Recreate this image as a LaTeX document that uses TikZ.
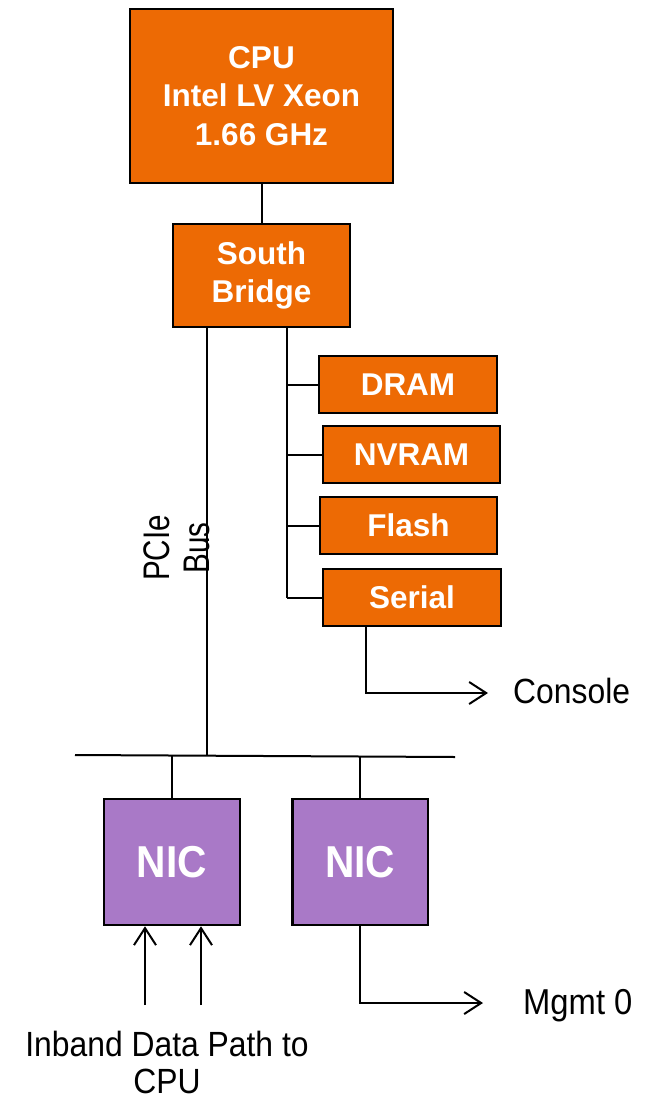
\documentclass[tikz,border=0pt]{standalone}
\usepackage{fontspec}
\usepackage{graphicx}
\setmainfont{Liberation Sans}
\newfontfamily\narrowfont{Liberation Sans}[FakeStretch=0.91]
\newfontfamily\pciefont{Liberation Sans}[FakeStretch=0.8]
\usetikzlibrary{arrows.meta,calc}
\definecolor{cOrange}{RGB}{237,106,4}
\definecolor{cPurple}{RGB}{169,121,199}
\tikzset{
  obox/.style={draw=black, line width=2.5pt, fill=cOrange, text=white, align=center,
    font=\fontsize{31.5}{38.5}\selectfont\bfseries, inner sep=0pt},
  pbox/.style={draw=black, line width=2.5pt, fill=cPurple, text=white, align=center,
    font=\fontsize{44.7}{50}\selectfont\narrowfont\bfseries, inner sep=0pt,
    minimum height=126pt},
  wire/.style={line width=2pt, draw=black},
  arr/.style={wire, -{Straight Barb[length=17pt,width=22pt,line width=2pt]}},
  lbl/.style={inner sep=0pt, text=black, font=\fontsize{35}{37}\selectfont\narrowfont}
}
\begin{document}
\begin{tikzpicture}[x=1pt,y=-1pt]
\useasboundingbox (0,0) rectangle (650,1102);
% boxes
\node[obox, minimum width=263pt, minimum height=174pt] (cpu) at (261.5,96) {CPU\\Intel LV Xeon\\1.66 GHz};
\node[obox, minimum width=177pt, minimum height=103pt] (sb) at (261.5,275.5) {South\\Bridge};
\node[obox, minimum width=178pt, minimum height=57pt] (dram) at (408,384.5) {DRAM};
\node[obox, minimum width=177pt, minimum height=57pt] (nvram) at (411.5,454.5) {NVRAM};
\node[obox, minimum width=177pt, minimum height=57pt] (flash) at (408.5,525.5) {Flash};
\node[obox, minimum width=178pt, minimum height=57pt] (serial) at (412,597.5) {Serial};
\node[pbox, minimum width=136pt] (nic1) at (172,862) {NIC};
\node[pbox, minimum width=135.5pt] (nic2) at (360.25,862) {NIC};
% labels
\node[lbl, anchor=base west, font=\fontsize{35}{40}\selectfont\narrowfont] (console) at (513,703) {Console};
\node[lbl, anchor=base west, font=\fontsize{36}{40}\selectfont\narrowfont] (mgmt) at (523,1014) {Mgmt 0};
\node[lbl, anchor=north, align=center] (inband) at (167,1031) {Inband Data Path to\\CPU};
\node[lbl, rotate=90, align=center, font=\fontsize{37}{40}\selectfont\pciefont] (pcie) at (176.5,548) {PCIe\\Bus};
% coordinates
\coordinate (busL) at (75,755);
\coordinate (busR) at (455,757);
\coordinate (pc) at (207,0);
\coordinate (tr) at (287,0);
\coordinate (sx) at (366,0);
\coordinate (conarr) at (488,693);
\coordinate (mgarr) at (483,1003);
\coordinate (in1) at (145,1005);
\coordinate (in2) at (201,1005);
% connectors
\draw[wire] (cpu.south) -- (sb.north);
\draw[wire] (sb.south -| pc) -- (busL -| pc);
\draw[wire] (busL) -- (busR);
\draw[wire] (sb.south -| tr) -- (serial.west -| tr);
\draw[wire] (dram.west -| tr) -- (dram.west);
\draw[wire] (nvram.west -| tr) -- (nvram.west);
\draw[wire] (flash.west -| tr) -- (flash.west);
\draw[wire] (serial.west -| tr) -- (serial.west);
\draw[arr] (serial.south -| sx) |- (conarr);
\draw[wire] (nic1.north) -- (nic1.north |- busL);
\draw[wire] (nic2.north) -- (nic2.north |- busR);
\draw[arr] (in1) -- (in1 |- nic1.south);
\draw[arr] (in2) -- (in2 |- nic1.south);
\draw[arr] (nic2.south) |- (mgarr);
\end{tikzpicture}
\end{document}
